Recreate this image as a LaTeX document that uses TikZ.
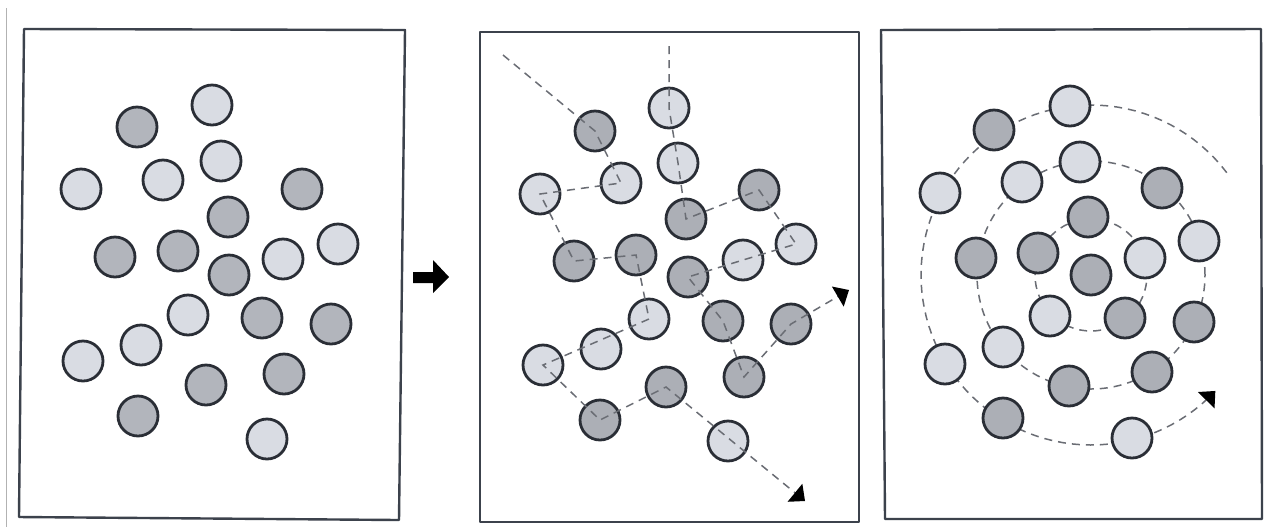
\documentclass[tikz,border=0pt]{standalone}
\usetikzlibrary{arrows.meta}
\definecolor{lightfill}{HTML}{D9DCE3}
\definecolor{darkfill}{HTML}{ACAFB6}
\definecolor{darkfillA}{HTML}{B2B5BC}
\definecolor{rim}{HTML}{2A2E36}
\definecolor{framecol}{HTML}{3C424C}
\definecolor{dashcol}{HTML}{6A6D74}
\begin{document}
\begin{tikzpicture}[x=0.5pt,y=-0.5pt,
  ball/.style={circle,draw=rim,line width=1.4pt,minimum size=20pt,inner sep=0pt},
  lb/.style={ball,fill=lightfill},
  db/.style={ball,fill=darkfill},
  dba/.style={ball,fill=darkfillA},
  frame/.style={draw=framecol,line width=1.2pt,line join=round},
  dashline/.style={draw=dashcol,line width=0.75pt,dash pattern=on 4pt off 3pt},
  tipend/.style={-{Triangle[width=11.5pt,length=6.5pt,color=black]}}]
\fill[white] (0,0) rectangle (1267,527);
\useasboundingbox (0,0) rectangle (1267,527);
% scan edge
\draw[black!30,line width=0.5pt] (6.5,8) -- (6.5,527);
% frames
\draw[frame] (24,29) -- (405,30) -- (399,520) -- (19,517) -- cycle;
\draw[frame] (480,32) -- (859,32) -- (859,522) -- (480,522) -- cycle;
\draw[frame] (881,30) -- (1261,29) -- (1262,519) -- (885,519) -- cycle;
% block arrow
\fill[black] (413,272) -- (433,272) -- (433,260) -- (449,277) -- (433,293) -- (433,283) -- (413,283) -- cycle;

% ---------- panel 1 ----------
\node[lb] (a1) at (212,105) {};
\node[dba] (a2) at (137,127) {};
\node[lb] (a3) at (221,161) {};
\node[lb] (a4) at (81,189) {};
\node[lb] (a5) at (163,180) {};
\node[dba] (a6) at (302,189) {};
\node[dba] (a7) at (228,217) {};
\node[dba] (a8) at (115,257) {};
\node[dba] (a9) at (178,251) {};
\node[dba] (a10) at (229,275) {};
\node[lb] (a11) at (283,259) {};
\node[lb] (a12) at (338,244) {};
\node[lb] (a13) at (188,315) {};
\node[dba] (a14) at (262,318) {};
\node[dba] (a15) at (331,324) {};
\node[lb] (a16) at (141,345) {};
\node[lb] (a17) at (83,361) {};
\node[dba] (a18) at (206,385) {};
\node[dba] (a19) at (284,374) {};
\node[dba] (a20) at (138,416) {};
\node[lb] (a21) at (267,439) {};

% ---------- panel 2 ----------
\node[lb] (ba) at (669,108) {};
\node[db] (bb) at (595,131) {};
\node[lb] (bc) at (678,163) {};
\node[lb] (bd) at (621,183) {};
\node[lb] (be) at (540,194) {};
\node[db] (bf) at (759,190) {};
\node[db] (bg) at (686,219) {};
\node[lb] (bh) at (796,244) {};
\node[db] (bi) at (574,261) {};
\node[db] (bj) at (636,255) {};
\node[lb] (bk) at (743,260) {};
\node[db] (bl) at (688,277) {};
\node[lb] (bm) at (649,319) {};
\node[db] (bn) at (723,321) {};
\node[db] (bo) at (791,324) {};
\node[lb] (bp) at (601,349) {};
\node[lb] (bq) at (543,365) {};
\node[db] (br) at (744,377) {};
\node[db] (bs) at (666,387) {};
\node[db] (bt) at (600,420) {};
\node[lb] (bu) at (728,441) {};

\coordinate (p1s) at (503,55);
\coordinate (p1e) at (805,501);
\coordinate (p2s) at (669,46);
\coordinate (p2e) at (849,290);
\draw[dashline,tipend] (p1s) -- (bb.center) -- (bd.center) -- (be.center) -- (bi.center)
  -- (bj.center) -- (bm.center) -- (bq.center) -- (bt.center) -- (bs.center) -- (p1e);
\draw[dashline,tipend] (p2s) -- (ba.center) -- (bc.center) -- (bg.center) -- (bf.center)
  -- (bh.center) -- (bk.center) -- (bl.center) -- (bn.center) -- (br.center) -- (bo.center) -- (p2e);

% ---------- panel 3 ----------
\coordinate (sc) at (1091,275);
\draw[dashline] (sc) circle[radius=28pt];
\draw[dashline] (sc) circle[radius=57pt];
\draw[dashline,tipend] plot[domain=37:317,samples=90] ({1091+170*cos(\x)},{275-170*sin(\x)});

\node[lb] (cA) at (1070,106) {};
\node[db] (cB) at (994,130) {};
\node[lb] (cC) at (1080,162) {};
\node[lb] (cD) at (1022,182) {};
\node[lb] (cE) at (940,193) {};
\node[db] (cF) at (1162,188) {};
\node[db] (cG) at (1088,217) {};
\node[lb] (cH) at (1199,241) {};
\node[db] (cI) at (976,258) {};
\node[db] (cJ) at (1038,253) {};
\node[lb] (cK) at (1145,258) {};
\node[db] (cL) at (1091,275) {};
\node[lb] (cM) at (1050,316) {};
\node[db] (cN) at (1125,318) {};
\node[db] (cO) at (1194,322) {};
\node[lb] (cP) at (1003,347) {};
\node[lb] (cQ) at (945,364) {};
\node[db] (cR) at (1152,372) {};
\node[db] (cS) at (1069,386) {};
\node[db] (cT) at (1003,418) {};
\node[lb] (cU) at (1132,438) {};
\end{tikzpicture}
\end{document}
